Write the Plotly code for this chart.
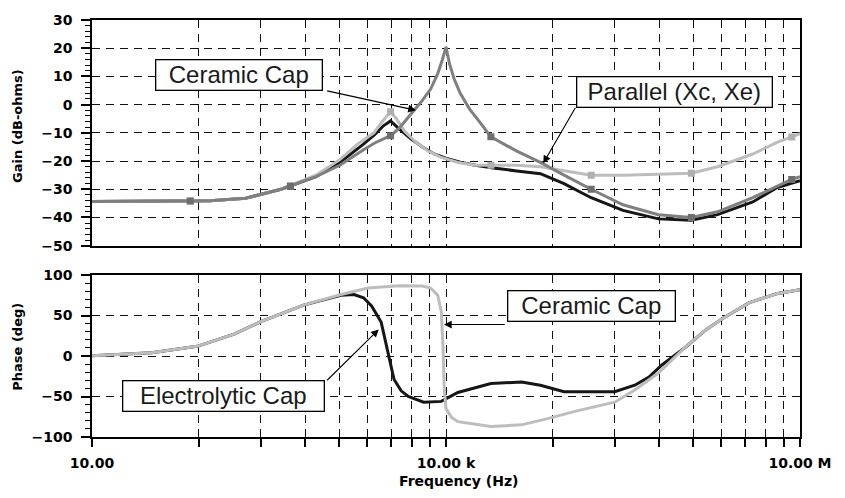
import numpy as np
import plotly.graph_objects as go

# ---------------- Gain (dB-ohms) ----------------
ceramic_gain_freq = [10, 32, 100, 200, 400, 790, 1260, 2000, 2510, 3390, 3980, 5010, 6310, 7410,
                     8510, 9330, 10000, 10700, 11750, 13200, 15800, 20000, 24000, 39800, 63100,
                     100000, 170000, 316000, 631000, 1200000, 2000000, 3980000, 6310000, 8510000, 10000000]
ceramic_gain_db = [-34.3, -34.3, -34.1, -33.2, -30, -25.5, -21.5, -16, -13.5, -11, -8.5, -3.5, 1.5, 5.5,
                   11, 16, 20.5, 14.5, 9, 4, -1.5, -7, -11.4, -16.5, -20.5,
                   -25, -30, -35.5, -39, -40, -38, -33, -29, -26.5, -25.5]

parallel_gain_freq = [10, 32, 100, 200, 400, 790, 1260, 1780, 2450, 2820, 3390, 3800, 4470, 5620,
                      7080, 8910, 12600, 17800, 25100, 39800, 63100, 100000, 170000, 316000,
                      631000, 1200000, 2000000, 3980000, 6310000, 10000000]
parallel_gain_db = [-34.3, -34.3, -34.1, -33.2, -30, -25, -19.5, -14, -10, -6.5, -2.5, -5, -9.5, -13.5,
                    -16.5, -18.5, -20.5, -21.5, -21.5, -21.5, -22, -23.5, -25, -25,
                    -24.7, -24.3, -22, -17.5, -13.5, -10.3]

electrolytic_gain_freq = [10, 32, 100, 200, 400, 790, 1260, 2000, 2510, 2950, 3390, 3980, 5010, 6310,
                          7940, 10000, 13200, 17800, 25100, 39800, 63100, 100000, 170000, 316000,
                          631000, 1200000, 2000000, 3980000, 6310000, 10000000]
electrolytic_gain_db = [-34.3, -34.3, -34.1, -33.2, -30, -25.5, -20.5, -14, -10.5, -7.5, -5.8, -8.5, -12, -15,
                        -17.5, -19, -20.4, -21.5, -22.5, -23.5, -24.5, -28, -33, -37.5,
                        -40.5, -41, -39, -34.5, -29.5, -27]

# marker positions along the gain traces
marker_freq = [68, 480, 3390, 24000, 170000, 1200000, 8510000]
ceramic_marker_db = [-34.2, -29, -11, -11.4, -30, -40, -26.5]
parallel_marker_db = [-34.2, -28.7, -2.5, -21.5, -25, -24.3, -11.5]

# ---------------- Phase (deg) ----------------
ceramic_phase_freq = [10, 32, 78, 160, 270, 620, 1290, 2190, 3980, 6310, 7410, 8510, 9120, 9440,
                      9660, 10000, 11200, 12600, 24000, 43700, 74100, 126000, 269000, 398000,
                      631000, 1050000, 1580000, 2190000, 3720000, 6310000, 10000000]
ceramic_phase_deg = [0.5, 4, 12, 27, 42.5, 63, 76, 84, 87, 86.5, 84, 75, 55, 10,
                     -40, -65, -76, -81, -87, -85, -77, -68, -57, -42,
                     -21, 10, 32, 46, 66, 77, 82]

electrolytic_phase_freq = [10, 32, 78, 160, 270, 620, 1290, 1660, 2000, 2340, 2820, 3240, 3630, 4170,
                           4790, 6460, 9120, 12600, 24000, 43700, 63100, 100000, 269000, 398000,
                           525000, 676000, 1050000, 1580000, 2190000, 3720000, 6310000, 10000000]
electrolytic_phase_deg = [0.5, 4, 12, 27, 42.5, 63, 75, 76, 72, 62, 42, 5, -29, -43,
                          -50, -57, -56, -45, -34, -32, -36, -44, -44, -36,
                          -26, -11, 10, 32, 46, 66, 77, 82]

# x-axis labels
major_freq = [10, 1e4, 1e7]
major_text = ["10.00", "10.00 k", "10.00 M"]

DARK = "#161616"
MID = "#7f7f7f"
LIGHT = "#bdbdbd"

fig = go.Figure()

fig.add_trace(go.Scatter(x=electrolytic_gain_freq, y=electrolytic_gain_db, mode="lines",
                         line=dict(color=DARK, width=3), xaxis="x", yaxis="y"))
fig.add_trace(go.Scatter(x=parallel_gain_freq, y=parallel_gain_db, mode="lines",
                         line=dict(color=LIGHT, width=3), xaxis="x", yaxis="y"))
fig.add_trace(go.Scatter(x=marker_freq, y=parallel_marker_db, mode="markers",
                         marker=dict(color="#b0b0b0", size=7, symbol="square"), xaxis="x", yaxis="y"))
fig.add_trace(go.Scatter(x=ceramic_gain_freq, y=ceramic_gain_db, mode="lines",
                         line=dict(color=MID, width=3), xaxis="x", yaxis="y"))
fig.add_trace(go.Scatter(x=marker_freq, y=ceramic_marker_db, mode="markers",
                         marker=dict(color="#6e6e6e", size=7, symbol="square"), xaxis="x", yaxis="y"))

fig.add_trace(go.Scatter(x=electrolytic_phase_freq, y=electrolytic_phase_deg, mode="lines",
                         line=dict(color=DARK, width=3), xaxis="x2", yaxis="y2"))
fig.add_trace(go.Scatter(x=ceramic_phase_freq, y=ceramic_phase_deg, mode="lines",
                         line=dict(color=LIGHT, width=3), xaxis="x2", yaxis="y2"))

# minor grid: eight subdivisions between each pair of labelled frequencies
minor_vals = []
for lo, hi in zip(major_freq[:-1], major_freq[1:]):
    span = np.log10(hi) - np.log10(lo)
    for k in range(2, 10):
        minor_vals.append(10 ** (np.log10(lo) + span * np.log10(k)))

tick_font = dict(family="DejaVu Sans", size=14, color="black", weight="bold")
grid_style = dict(showgrid=True, gridcolor="#111111", gridwidth=1.2, griddash="8px,6px")

xcommon = dict(type="log", range=[1, 7], tickmode="array", tickvals=major_freq, ticktext=major_text,
               showline=True, linecolor="black", linewidth=1.5, mirror=True, zeroline=False,
               tickfont=tick_font, **grid_style)

fig.update_layout(
    width=845, height=498,
    margin=dict(l=92, r=45, t=12, b=61),
    paper_bgcolor="white", plot_bgcolor="white",
    showlegend=False,
    xaxis=dict(anchor="y", domain=[0, 1], showticklabels=False, ticks="",
               minor=dict(tickmode="array", tickvals=minor_vals, showgrid=True, gridcolor="#111111",
                          gridwidth=1.2, griddash="8px,6px", ticks=""),
               **xcommon),
    xaxis2=dict(anchor="y2", domain=[0, 1], matches="x", showticklabels=True, ticks="outside",
                ticklen=8, tickwidth=1.5, tickcolor="black", ticklabelstandoff=4,
                minor=dict(tickmode="array", tickvals=minor_vals, showgrid=True, gridcolor="#111111",
                           gridwidth=1.2, griddash="8px,6px", ticks="outside", ticklen=8,
                           tickwidth=1.5, tickcolor="black"),
                **xcommon),
    yaxis=dict(anchor="x", domain=[0.4588, 1], range=[-50, 30], dtick=10, tick0=0,
               showline=True, linecolor="black", linewidth=1.5, mirror=True, zeroline=False,
               ticks="outside", ticklen=9, tickwidth=1.5, tickcolor="black", ticklabelstandoff=6,
               tickfont=tick_font,
               minor=dict(dtick=2, ticks="outside", ticklen=5, tickwidth=1, tickcolor="black", showgrid=False),
               **grid_style),
    yaxis2=dict(anchor="x2", domain=[0, 0.3882], range=[-100, 100], dtick=50, tick0=0,
                showline=True, linecolor="black", linewidth=1.5, mirror=True, zeroline=False,
                ticks="outside", ticklen=9, tickwidth=1.5, tickcolor="black", ticklabelstandoff=6,
                tickfont=tick_font,
                minor=dict(dtick=10, ticks="outside", ticklen=5, tickwidth=1, tickcolor="black", showgrid=False),
                **grid_style),
)

title_font = dict(family="DejaVu Sans", size=13, color="black", weight="bold")
fig.add_annotation(text="Gain (dB-ohms)", xref="paper", yref="paper", x=-0.1045, y=0.746,
                   textangle=-90, showarrow=False, font=title_font, xanchor="center", yanchor="middle")
fig.add_annotation(text="Phase (deg)", xref="paper", yref="paper", x=-0.1045, y=0.2165,
                   textangle=-90, showarrow=False, font=title_font, xanchor="center", yanchor="middle")
fig.add_annotation(text="Frequency (Hz)", xref="paper", yref="paper", x=0.517, y=-0.106,
                   showarrow=False, font=dict(family="DejaVu Sans", size=14, color="black", weight="bold"),
                   xanchor="center", yanchor="middle")

label_font = dict(family="Liberation Sans", size=24, color="#1a1a1a")


def callout(text, xa, ya, cx, cy, w, tail, head):
    """Boxed label centred at (cx, cy) with an arrow from tail to head (freq, value)."""
    fig.add_annotation(text=text, x=np.log10(cx), y=cy, xref=xa, yref=ya, showarrow=False,
                       font=label_font, bgcolor="white", bordercolor="black", borderwidth=1.3,
                       borderpad=0, width=w, height=29, xanchor="center", yanchor="middle")
    fig.add_annotation(text="", x=np.log10(head[0]), y=head[1], ax=np.log10(tail[0]), ay=tail[1],
                       xref=xa, yref=ya, axref=xa, ayref=ya, showarrow=True,
                       arrowhead=2, arrowsize=1.4, arrowwidth=1.1, arrowcolor="black", standoff=0)


callout("Ceramic Cap", "x", "y", 177, 10.5, 165, (955, 5.0), (5560, -2.0))
callout("Parallel (Xc, Xe)", "x", "y", 871000, 4.6, 194, (127000, -0.6), (66700, -20.8))
callout("Ceramic Cap", "x2", "y2", 171000, 61.7, 166, (32400, 38.9), (9620, 38.9))
callout("Electrolytic Cap", "x2", "y2", 130, -49.7, 200, (955, -31.7), (2690, 32.9))

fig.write_html("out.html")
